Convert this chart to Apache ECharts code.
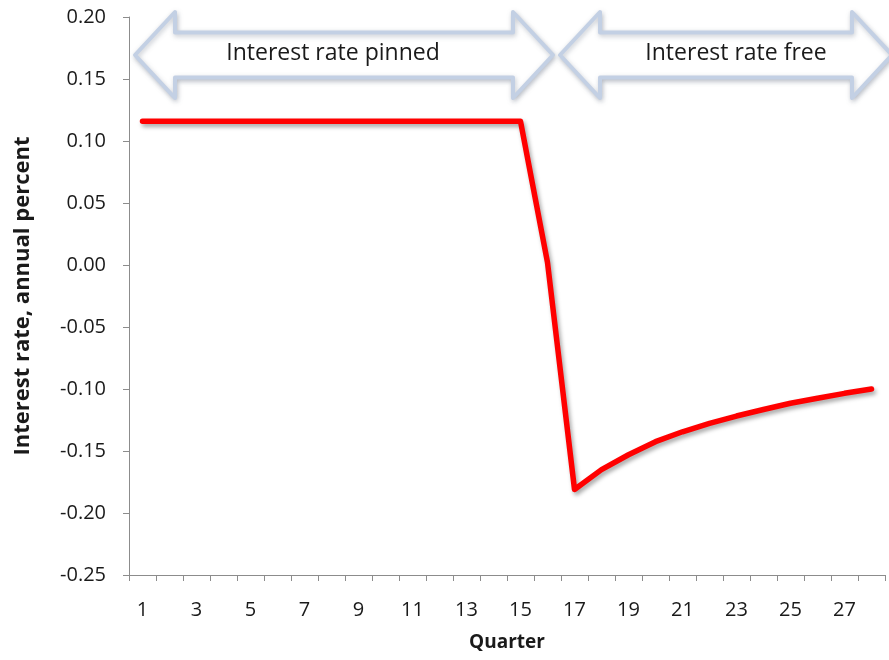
<!DOCTYPE html>
<html lang="en">
<head>
  <meta charset="UTF-8">
  <script src="https://cdn.jsdelivr.net/npm/echarts@6/dist/echarts.min.js"></script>
  <style>
    html, body { margin: 0; padding: 0; background: #fff; }
    #container { width: 889px; height: 660px; }
  </style>
</head>
<body>
  <div id="container"></div>
  <script>
    // quarters 1..28
    var quarters = [];
    for (var q = 1; q <= 28; q++) quarters.push(String(q));

    // interest rate, annual percent
    var rates = [
      0.116, 0.116, 0.116, 0.116, 0.116, 0.116, 0.116,
      0.116, 0.116, 0.116, 0.116, 0.116, 0.116, 0.116,
      0.116, 0.002, -0.181, -0.165, -0.153, -0.1425, -0.1345,
      -0.1277, -0.1218, -0.1165, -0.1115, -0.1075, -0.1035, -0.100
    ];

    var yMin = -0.25, yMax = 0.20, yStep = 0.05;

    var phaseLabels = ['Interest rate pinned', 'Interest rate free'];

    var font = '"Open Sans", "Liberation Sans", sans-serif';

    // double headed block arrow
    function arrowShape(x0, x1, yMid, headW, headH, shaftH) {
      var t = yMid - headH / 2, b = yMid + headH / 2;
      var st = yMid - shaftH / 2, sb = yMid + shaftH / 2;
      return [
        [x0, yMid], [x0 + headW, t], [x0 + headW, st],
        [x1 - headW, st], [x1 - headW, t], [x1, yMid],
        [x1 - headW, b], [x1 - headW, sb], [x0 + headW, sb],
        [x0 + headW, b]
      ];
    }

    function arrow(x0, x1, text, tx) {
      return {
        type: 'group',
        children: [
          {
            type: 'polygon',
            shape: { points: arrowShape(x0, x1, 55, 40, 86, 45) },
            style: {
              fill: '#ffffff',
              stroke: '#c3d0e4',
              lineWidth: 4,
              lineJoin: 'round',
              shadowBlur: 5,
              shadowColor: 'rgba(90,100,120,0.35)',
              shadowOffsetX: 1,
              shadowOffsetY: 2
            }
          },
          {
            type: 'text',
            x: tx,
            y: 53,
            style: {
              text: text,
              font: '23px ' + font,
              fill: '#1a1a1a',
              align: 'center',
              verticalAlign: 'middle'
            }
          }
        ]
      };
    }

    var myChart = echarts.init(document.getElementById('container'));

    var option = {
      animation: false,
      backgroundColor: '#ffffff',
      grid: { left: 129, right: 4, top: 17, bottom: 85, containLabel: false },
      xAxis: {
        type: 'category',
        data: quarters,
        boundaryGap: true,
        name: 'Quarter',
        nameLocation: 'middle',
        nameGap: 58,
        nameTextStyle: { fontFamily: font, fontWeight: 'bold', fontSize: 19, color: '#1a1a1a' },
        axisLine: { onZero: false, lineStyle: { color: '#8c8c8c', width: 1 } },
        axisTick: { show: true, interval: 0, length: 6, lineStyle: { color: '#8c8c8c' } },
        axisLabel: { interval: 1, margin: 25, fontFamily: font, fontSize: 20, color: '#1a1a1a' },
        splitLine: { show: false }
      },
      yAxis: {
        type: 'value',
        min: yMin,
        max: yMax,
        interval: yStep,
        name: 'Interest rate, annual percent',
        nameLocation: 'middle',
        nameGap: 95,
        nameTextStyle: { fontFamily: font, fontWeight: 'bold', fontSize: 22, color: '#1a1a1a' },
        axisLine: { show: true, lineStyle: { color: '#8c8c8c', width: 1 } },
        axisTick: { show: true, length: 6, lineStyle: { color: '#8c8c8c' } },
        axisLabel: {
          margin: 23,
          fontFamily: font,
          fontSize: 20,
          color: '#1a1a1a',
          formatter: function (v) { return v.toFixed(2); }
        },
        splitLine: { show: false }
      },
      series: [
        {
          type: 'line',
          data: rates,
          symbol: 'none',
          smooth: false,
          lineStyle: {
            color: '#ff0000',
            width: 5.5,
            join: 'round',
            cap: 'round',
            shadowColor: 'rgba(0,0,0,0.35)',
            shadowBlur: 4,
            shadowOffsetX: 2,
            shadowOffsetY: 3
          }
        }
      ],
      graphic: [
        arrow(135, 553, phaseLabels[0], 333),
        arrow(560, 892, phaseLabels[1], 736)
      ]
    };

    myChart.setOption(option);
  </script>
</body>
</html>
